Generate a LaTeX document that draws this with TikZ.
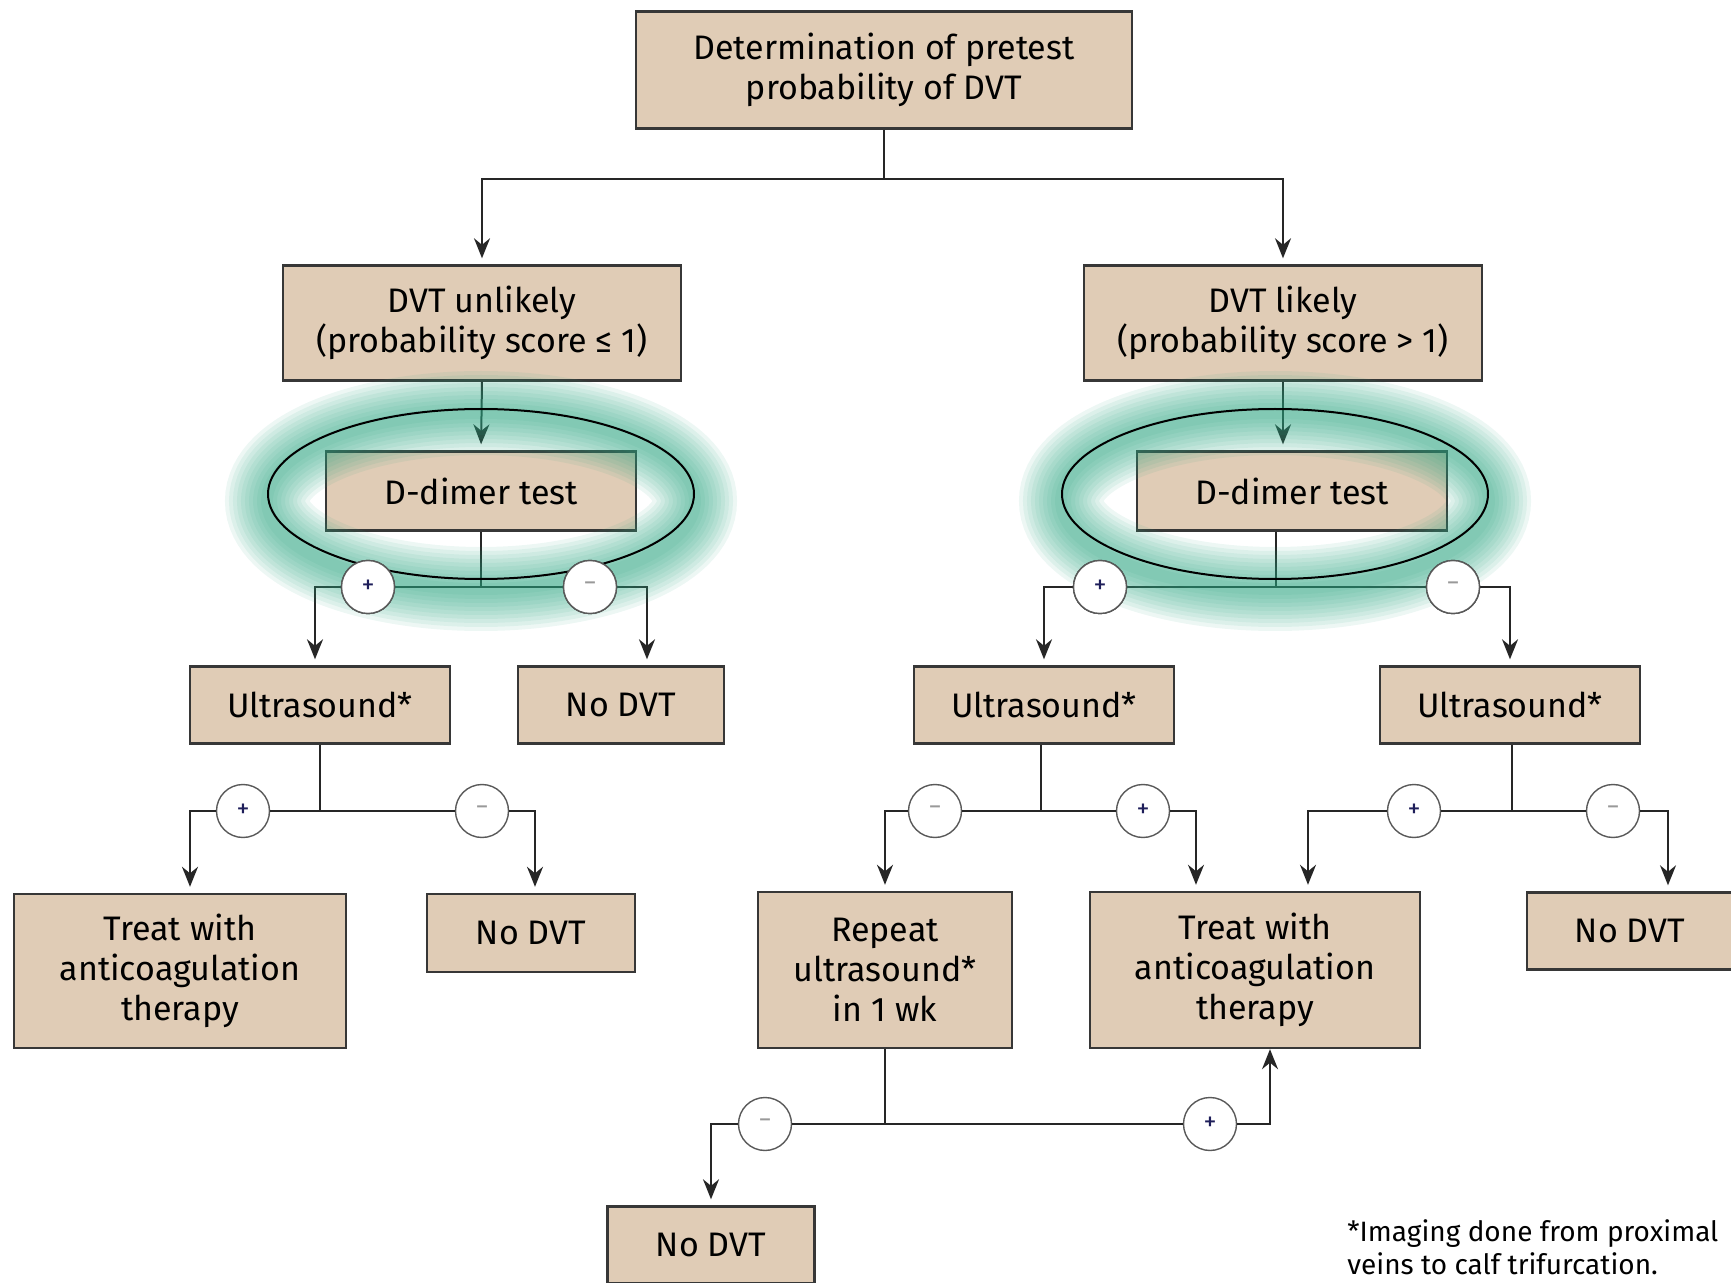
\documentclass[tikz,border=0pt]{standalone}
\usepackage{fontspec}
\setmainfont{Fira Sans}
\usetikzlibrary{calc, arrows.meta}

\definecolor{boxfill}{RGB}{224,204,182}
\definecolor{boxline}{RGB}{55,55,55}
\definecolor{glowgreen}{RGB}{45,165,130}
\definecolor{signblue}{RGB}{30,30,90}

\tikzset{
	box/.style = {draw=boxline, fill=boxfill, line width=1.2pt, align=center, inner sep=0pt, font=\fontsize{17}{20}\selectfont},
	sign/.style = {circle, draw=black!65, fill=white, line width=0.7pt, minimum size=26.5pt, inner sep=0pt, font=\fontsize{13}{13}\selectfont},
	posnode/.style = {sign, text=signblue},
	negnode/.style = {sign, text=black!40},
	link/.style = {draw=black!85, line width=1pt},
	arr/.style = {link, -{Stealth[length=10pt, width=8pt]}, shorten >=3pt},
}

\begin{document}
\begin{tikzpicture}[x=0.5pt, y=-0.5pt]
	\useasboundingbox (0,0) rectangle (1731,1283);
	\clip (0,0) rectangle (1731,1283);

	\node[box, minimum width=248pt, minimum height=58.5pt] (top) at (884,70) {Determination of pretest\\probability of DVT};
	\node[box, minimum width=199pt, minimum height=57.5pt] (unlikely) at (482,323) {DVT unlikely\\(probability score ≤ 1)};
	\node[box, minimum width=199pt, minimum height=57.5pt] (likely) at (1283,323) {DVT likely\\(probability score > 1)};

	\node[box, minimum width=155pt, minimum height=39.5pt] (ddimerL) at (481,491) {D-dimer test};
	\node[box, minimum width=155pt, minimum height=39.5pt] (ddimerR) at (1292,491) {D-dimer test};

	\node[box, minimum width=130pt, minimum height=38.5pt] (usA) at (320,705) {Ultrasound*};
	\node[box, minimum width=103pt, minimum height=38.5pt] (nodvtA) at (621,705) {No DVT};
	\node[box, minimum width=130pt, minimum height=38.5pt] (usB) at (1044,705) {Ultrasound*};
	\node[box, minimum width=130pt, minimum height=38.5pt] (usC) at (1510,705) {Ultrasound*};

	\node[box, minimum width=166pt, minimum height=77pt] (treatA) at (180,971) {Treat with\\anticoagulation\\therapy};
	\node[box, minimum width=104pt, minimum height=39pt] (nodvtB) at (531,933) {No DVT};
	\node[box, minimum width=127pt, minimum height=78pt] (rep) at (885,970) {Repeat\\ultrasound*\\in 1 wk};
	\node[box, minimum width=165pt, minimum height=78pt] (treatB) at (1255,970) {Treat with\\anticoagulation\\therapy};
	\node[box, minimum width=103pt, minimum height=38.5pt] (nodvtC) at (1630,931) {No DVT};
	\node[box, minimum width=103.5pt, minimum height=38.5pt] (nodvtD) at (711,1245) {No DVT};

	\node[anchor=west, align=left, inner sep=0pt, font=\fontsize{14}{16.5}\selectfont] (note) at (1347,1247) {*Imaging done from proximal\\veins to calf trifurcation.};

	\coordinate (split) at (884,179);
	\coordinate (jA) at (481,587);
	\coordinate (jB) at (1276,587);
	\coordinate (jC) at (320,811);
	\coordinate (jD) at (1041,811);
	\coordinate (jE) at (1512,811);
	\coordinate (jF) at (885,1124);

	\node[posnode] (plusA) at (368,587) {+};
	\node[negnode] (minusA) at (590,587) {−};
	\node[posnode] (plusB) at (1100,587) {+};
	\node[negnode] (minusB) at (1453,587) {−};
	\node[posnode] (plusC) at (243,811) {+};
	\node[negnode] (minusC) at (482,811) {−};
	\node[negnode] (minusD) at (935,811) {−};
	\node[posnode] (plusD) at (1143,811) {+};
	\node[posnode] (plusE) at (1414,811) {+};
	\node[negnode] (minusE) at (1613,811) {−};
	\node[negnode] (minusF) at (765,1124) {−};
	\node[posnode] (plusF) at (1210,1124) {+};

	\draw[link] (top.south) -- (split);
	\draw[arr] (split) -| (unlikely.north);
	\draw[arr] (split) -| (likely.north);

	\draw[arr] (unlikely.south) -- (ddimerL.north);
	\draw[arr] (likely.south) -- (likely.south |- ddimerR.north);

	\draw[link] (ddimerL.south) -- (jA);
	\draw[link] (jA) -- (plusA) (jA) -- (minusA);
	\draw[arr] (plusA) -| ([xshift=-2.5pt]usA.north);
	\draw[arr] (minusA) -| ([xshift=13pt]nodvtA.north);

	\draw[link] (jB |- ddimerR.south) -- (jB);
	\draw[link] (jB) -- (plusB) (jB) -- (minusB);
	\draw[arr] (plusB) -| (usB.north);
	\draw[arr] (minusB) -| (usC.north);

	\draw[link] (usA.south) -- (jC);
	\draw[link] (jC) -- (plusC) (jC) -- (minusC);
	\draw[arr] (plusC) -| ([xshift=5pt]treatA.north);
	\draw[arr] (minusC) -| ([xshift=2pt]nodvtB.north);

	\draw[link] (jD |- usB.south) -- (jD);
	\draw[link] (jD) -- (minusD) (jD) -- (plusD);
	\draw[arr] (minusD) -| (rep.north);
	\draw[arr] (plusD) -| ([xshift=-29.5pt]treatB.north);

	\draw[link] (jE |- usC.south) -- (jE);
	\draw[link] (jE) -- (plusE) (jE) -- (minusE);
	\draw[arr] (plusE) -| ([xshift=26.5pt]treatB.north);
	\draw[arr] (minusE) -| ([xshift=19pt]nodvtC.north);

	\draw[link] (rep.south) -- (jF);
	\draw[link] (jF) -- (minusF) (jF) -- (plusF);
	\draw[arr] (minusF) -| (nodvtD.north);
	\draw[arr, shorten >=0pt] (plusF) -| ([xshift=7.5pt]treatB.south);

	\begin{scope}[glowgreen]
		\foreach \w in {42,38,...,4}
		{
			\draw[line width=\w pt, opacity=0.085] (481,501) ellipse [x radius=214, y radius=88];
			\draw[line width=\w pt, opacity=0.085] (1275,501) ellipse [x radius=214, y radius=88];
		}
	\end{scope}
	\draw[black, line width=1pt] (481,494) ellipse [x radius=213, y radius=85];
	\draw[black, line width=1pt] (1275,494) ellipse [x radius=213, y radius=85];

	\foreach \s in {plusA, minusA, plusB, minusB}
		\node[sign, fill=white, fill opacity=0.6, text opacity=1, draw opacity=1] at (\s) {};
	\node[posnode] at (plusA) {+};
	\node[negnode] at (minusA) {−};
	\node[posnode] at (plusB) {+};
	\node[negnode] at (minusB) {−};
\end{tikzpicture}
\end{document}
